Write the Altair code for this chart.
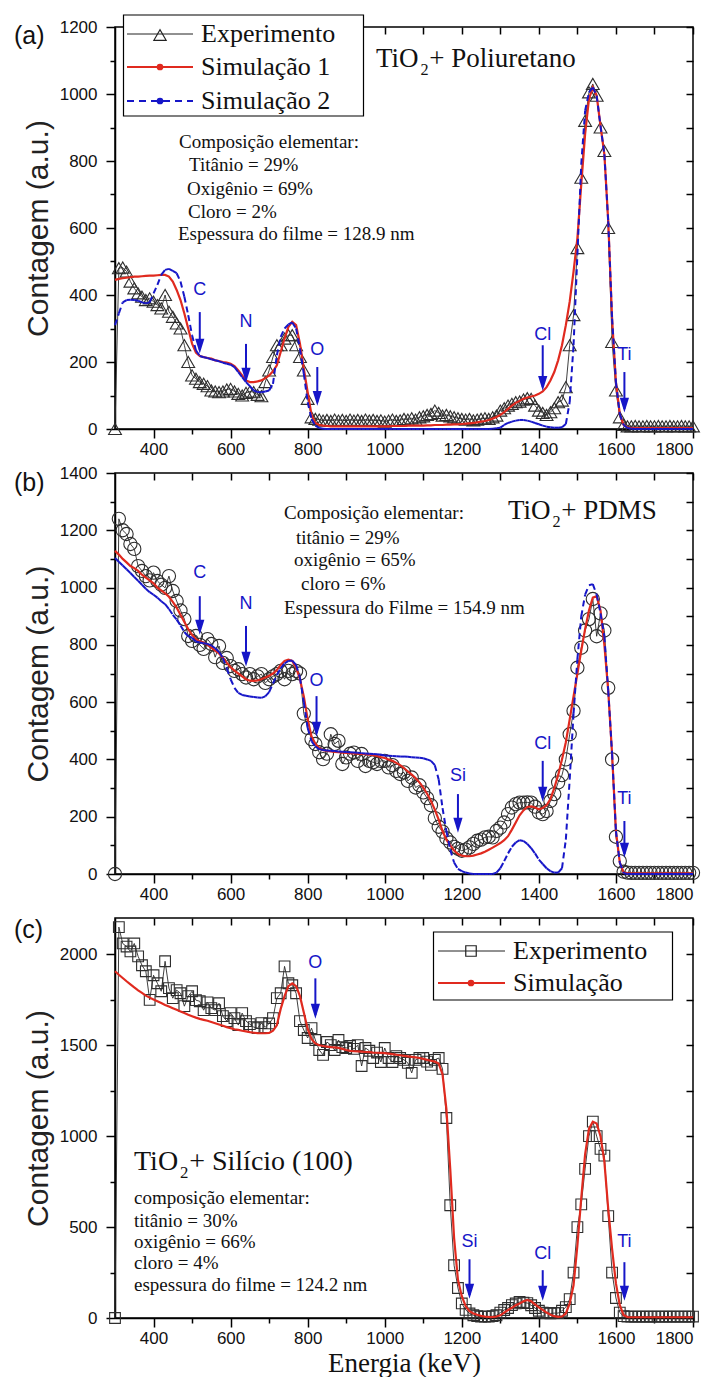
import altair as alt
import pandas as pd

# ---------------- data (energy channel grid, keV) ----------------
energia = list(range(300, 1801, 10))

# Panel (a): TiO2 + Poliuretano
a_exp = [0, 480, 482, 470, 440, 420, 405, 395, 385, 390,
         380, 370, 360, 400, 350, 335, 315, 300, 250, 200,
         160, 150, 140, 135, 128, 115, 112, 110, 112, 118,
         120, 112, 105, 100, 108, 112, 110, 102, 98, 140,
         175, 215, 250, 250, 270, 280, 280, 250, 215, 175,
         90, 35, 30, 28, 25, 27, 24, 28, 25, 27,
         24, 28, 25, 27, 24, 28, 25, 27, 24, 26,
         22, 25, 28, 24, 26, 30, 28, 32, 28, 35,
         38, 42, 45, 55, 48, 40, 42, 38, 35, 32,
         30, 28, 30, 26, 28, 30, 32, 30, 35, 40,
         55, 62, 70, 75, 80, 82, 88, 92, 90, 70,
         55, 48, 42, 50, 62, 80, 85, 125, 250, 340,
         540, 750, 920, 1005, 1030, 995, 900, 830, 600, 260,
         115, 35, 12, 8, 8, 9, 8, 8, 9, 8,
         8, 9, 8, 8, 9, 8, 8, 9, 8, 8,
         8]
a_sim1 = [445, 448, 450, 452, 453, 455, 455, 456, 457, 458,
          458, 459, 460, 460, 455, 440, 415, 385, 345, 300,
          255, 228, 218, 215, 212, 210, 205, 203, 200, 198,
          195, 188, 175, 160, 145, 140, 140, 142, 145, 152,
          160, 172, 190, 230, 270, 305, 320, 310, 255, 180,
          110, 42, 18, 12, 10, 9, 8, 8, 8, 8,
          8, 8, 8, 8, 8, 8, 8, 8, 8, 8,
          8, 8, 9, 9, 9, 9, 10, 10, 10, 10,
          10, 11, 11, 12, 12, 12, 13, 13, 14, 14,
          15, 16, 17, 18, 20, 22, 24, 27, 31, 36,
          42, 50, 60, 70, 78, 84, 90, 94, 97, 100,
          105, 112, 125, 145, 170, 205, 250, 310, 380, 470,
          570, 730, 880, 985, 1020, 995, 905, 820, 620, 330,
          140, 45, 12, 5, 3, 3, 3, 3, 3, 3,
          3, 3, 3, 3, 3, 3, 3, 3, 3, 3,
          3]
a_sim2 = [310, 345, 378, 385, 386, 385, 383, 378, 375, 378,
          405, 430, 460, 475, 478, 472, 465, 440, 395, 340,
          280, 235, 218, 214, 212, 208, 205, 202, 198, 195,
          192, 185, 170, 155, 140, 128, 115, 110, 110, 112,
          115, 135, 220, 275, 300, 312, 318, 300, 240, 165,
          80, 30, 10, 3, 1, 0, 0, 0, 0, 0,
          0, 0, 0, 0, 0, 0, 0, 0, 0, 0,
          0, 0, 0, 0, 0, 0, 0, 0, 0, 0,
          0, 0, 0, 0, 0, 0, 0, 0, 0, 0,
          0, 0, 0, 0, 0, 0, 0, 0, 1, 2,
          4, 12, 18, 22, 25, 27, 27, 25, 22, 18,
          14, 10, 7, 5, 4, 4, 5, 15, 80, 250,
          520, 790, 950, 1005, 1020, 995, 905, 820, 620, 330,
          140, 45, 12, 3, 1, 0, 0, 0, 0, 0,
          0, 0, 0, 0, 0, 0, 0, 0, 0, 0,
          0]

# Panel (b): TiO2 + PDMS
b_exp = [0, 1240, 1200, 1187, 1152, 1135, 1075, 1058, 1040, 1025,
         1052, 1023, 1010, 999, 1040, 988, 953, 920, 890, 831,
         814, 831, 800, 786, 820, 803, 757, 796, 737, 754,
         726, 709, 715, 698, 686, 698, 680, 690, 698, 667,
         680, 690, 698, 709, 680, 709, 698, 709, 700, 560,
         510, 471, 454, 425, 401, 420, 488, 454, 465, 384,
         407, 420, 424, 395, 419, 377, 395, 390, 384, 395,
         395, 372, 380, 360, 349, 355, 325, 337, 302, 310,
         285, 265, 240, 195, 165, 148, 125, 110, 95, 88,
         81, 85, 93, 105, 116, 120, 128, 130, 128, 150,
         162, 180, 209, 232, 244, 249, 249, 250, 249, 235,
         215, 209, 220, 255, 279, 320, 345, 400, 488, 570,
         720, 790, 850, 890, 960, 830, 910, 850, 650, 400,
         130, 45, 8, 5, 4, 4, 4, 4, 4, 4,
         4, 4, 4, 4, 4, 4, 4, 4, 4, 4,
         4]
b_sim1 = [1128, 1115, 1100, 1088, 1075, 1068, 1058, 1045, 1035, 1025,
          1015, 1000, 990, 980, 968, 950, 930, 905, 880, 855,
          835, 820, 812, 808, 800, 790, 780, 770, 755, 738,
          722, 710, 700, 690, 680, 675, 674, 676, 680, 686,
          692, 700, 712, 730, 744, 748, 744, 720, 680, 620,
          540, 480, 455, 440, 432, 430, 428, 426, 425, 424,
          423, 422, 421, 420, 419, 418, 417, 415, 412, 408,
          405, 400, 395, 388, 380, 370, 358, 347, 335, 320,
          302, 280, 255, 225, 190, 150, 120, 100, 82, 70,
          64, 62, 62, 64, 68, 72, 78, 85, 92, 100,
          108, 118, 132, 155, 180, 205, 222, 234, 236, 232,
          226, 230, 240, 262, 300, 345, 400, 460, 540, 620,
          700, 780, 855, 920, 965, 970, 920, 800, 640, 420,
          150, 40, 5, 2, 2, 2, 2, 2, 2, 2,
          2, 2, 2, 2, 2, 2, 2, 2, 2, 2,
          2]
b_sim2 = [1103, 1090, 1077, 1064, 1051, 1037, 1024, 1010, 996, 984,
          975, 965, 952, 942, 925, 905, 888, 868, 845, 830,
          825, 812, 808, 806, 803, 798, 788, 775, 755, 718,
          680, 650, 632, 625, 622, 620, 618, 616, 615, 620,
          635, 665, 695, 718, 735, 744, 745, 730, 685, 600,
          510, 464, 445, 436, 433, 431, 430, 429, 428, 427,
          426, 425, 424, 423, 422, 421, 420, 419, 418, 416,
          414, 413, 412, 411, 410, 410, 409, 408, 407, 406,
          404, 400, 395, 380, 330, 230, 150, 85, 40, 18,
          10, 5, 2, 0, 0, 0, 0, 0, 0, 5,
          20, 45, 72, 95, 110, 118, 115, 105, 90, 72,
          50, 35, 20, 10, 5, 5, 20, 120, 330, 560,
          750, 900, 975, 1008, 1012, 975, 910, 830, 640, 420,
          150, 40, 3, 0, 0, 0, 0, 0, 0, 0,
          0, 0, 0, 0, 0, 0, 0, 0, 0, 0,
          0]

# Panel (c): TiO2 + Silicio (100)
c_exp = [0, 2150, 2060, 2043, 2016, 2060, 1989, 1940, 1907, 1750,
         1885, 1841, 1797, 1962, 1814, 1759, 1803, 1786, 1715, 1770,
         1797, 1748, 1742, 1693, 1736, 1704, 1693, 1731, 1660, 1633,
         1677, 1649, 1611, 1677, 1633, 1616, 1600, 1594, 1622, 1600,
         1620, 1649, 1759, 1786, 1934, 1841, 1830, 1786, 1633, 1584,
         1540, 1594, 1529, 1474, 1447, 1518, 1501, 1474, 1529, 1490,
         1485, 1496, 1480, 1501, 1386, 1485, 1470, 1430, 1460, 1408,
         1485, 1430, 1408, 1440, 1430, 1420, 1403, 1348, 1420, 1430,
         1430, 1410, 1392, 1420, 1430, 1370, 1100, 620, 290, 165,
         80, 45, 25, 15, 10, 8, 8, 8, 10, 15,
         30, 44, 55, 71, 80, 88, 85, 82, 70, 55,
         40, 30, 27, 25, 27, 27, 40, 60, 104, 250,
         500, 625, 820, 1000, 1080, 1000, 930, 893, 560, 250,
         110, 30, 10, 8, 8, 8, 8, 8, 8, 8,
         8, 8, 8, 8, 8, 8, 8, 8, 8, 8,
         8]
c_sim = [1907, 1888, 1870, 1852, 1835, 1818, 1802, 1788, 1773, 1762,
         1752, 1742, 1732, 1722, 1713, 1704, 1695, 1686, 1677, 1668,
         1660, 1652, 1645, 1640, 1635, 1628, 1621, 1614, 1607, 1600,
         1594, 1588, 1585, 1580, 1576, 1572, 1569, 1567, 1566, 1566,
         1568, 1580, 1610, 1700, 1770, 1825, 1841, 1825, 1770, 1680,
         1590, 1535, 1510, 1500, 1496, 1493, 1490, 1488, 1486, 1480,
         1474, 1469, 1467, 1466, 1465, 1463, 1462, 1460, 1459, 1458,
         1457, 1454, 1451, 1448, 1445, 1442, 1439, 1436, 1433, 1430,
         1425, 1420, 1415, 1410, 1400, 1340, 1150, 820, 440, 210,
         120, 65, 38, 25, 18, 12, 8, 6, 5, 8,
         15, 30, 44, 56, 70, 80, 92, 99, 92, 75,
         58, 45, 30, 18, 10, 6, 8, 25, 80, 180,
         400, 660, 900, 1040, 1080, 1070, 1000, 860, 600, 380,
         190, 70, 16, 5, 4, 4, 4, 4, 4, 4,
         4, 4, 4, 4, 4, 4, 4, 4, 4, 4,
         4]

for s in (a_exp, a_sim1, a_sim2, b_exp, b_sim1, b_sim2, c_exp, c_sim):
    assert len(s) == len(energia), len(s)

# element edge markers: label, energy, arrow top, arrow tip, label height
a_elem = ["C", "N", "O", "Cl", "Ti"]
a_elem_e = [520, 640, 825, 1410, 1622]
a_elem_top = [349, 254, 185, 250, 170]
a_elem_tip = [236, 149, 80, 125, 60]
a_elem_lab = [415, 319, 236, 280, 221]

b_elem = ["C", "N", "O", "Si", "Cl", "Ti"]
b_elem_e = [520, 640, 823, 1190, 1410, 1622]
b_elem_top = [970, 866, 621, 279, 395, 185]
b_elem_tip = [848, 737, 492, 157, 265, 70]
b_elem_lab = [1051, 943, 674, 342, 454, 262]

c_elem = ["O", "Si", "Cl", "Ti"]
c_elem_e = [820, 1220, 1410, 1622]
c_elem_top = [1868, 323, 263, 307]
c_elem_tip = [1666, 126, 115, 115]
c_elem_lab = [1951, 416, 351, 416]

# ---------------- styling ----------------
SANS = "Liberation Sans"
SERIF = "Liberation Serif"
BLUE = "#1616c8"
RED = "#e02a1f"
DARK = "#2a2a2a"
W = 578
H = 401

one = pd.DataFrame({"k": [0]})
XS = alt.Scale(domain=[300, 1800], nice=False, zero=False)


def series_df(vals):
    return pd.DataFrame({"E": energia, "C": vals})


def segs_df(vals):
    return pd.DataFrame({"E": energia[:-1], "C": vals[:-1],
                         "E2": energia[1:], "C2": vals[1:]})


def txt(text, x, y, size, font, color="#111111", align="left", baseline="middle"):
    return alt.Chart(one).mark_text(
        text=text, font=font, fontSize=size, color=color, align=align, baseline=baseline
    ).encode(x=alt.value(x), y=alt.value(y))


def tio2(x, y, rest, size):
    w = 1.611 * size
    return [txt("TiO", x, y, size, SERIF, baseline="alphabetic"),
            txt("2", x + w + 1, y + size * 0.28, size * 0.6, SERIF, baseline="alphabetic"),
            txt(rest, x + w + size * 0.36, y, size, SERIF, baseline="alphabetic")]


def hline(x1, x2, y, color, width, dash=None):
    kw = dict(color=color, strokeWidth=width)
    if dash:
        kw["strokeDash"] = dash
    return alt.Chart(one).mark_rule(**kw).encode(
        x=alt.value(x1), x2=alt.value(x2), y=alt.value(y))


def sym(x, y, shape, size, color, filled):
    kw = dict(shape=shape, size=size, filled=filled, opacity=1)
    if filled:
        kw["fill"] = color
        kw["stroke"] = color
    else:
        kw["stroke"] = color
        kw["strokeWidth"] = 1.2
    return alt.Chart(one).mark_point(**kw).encode(x=alt.value(x), y=alt.value(y))


def box(x1, y1, x2, y2):
    return alt.Chart(one).mark_rect(fill="white", stroke="black", strokeWidth=1.2).encode(
        x=alt.value(x1), x2=alt.value(x2), y=alt.value(y1), y2=alt.value(y2))


ARROW = "M-0.62,-1L0.62,-1L0,1Z"


def arrows(names, es, tops, tips, labs, ys):
    df = pd.DataFrame({"el": names, "E": es, "top": tops, "tip": tips, "lab": labs})
    base = alt.Chart(df)
    shaft = base.mark_rule(color=BLUE, strokeWidth=2).encode(
        x=alt.X("E:Q", scale=XS, axis=None),
        y=alt.Y("top:Q", scale=ys, axis=None),
        y2="tip:Q")
    head = base.mark_point(shape=ARROW, filled=True, fill=BLUE, stroke=BLUE, size=110,
                           yOffset=-5, opacity=1).encode(
        x=alt.X("E:Q", scale=XS, axis=None),
        y=alt.Y("tip:Q", scale=ys, axis=None))
    lab = base.mark_text(font=SANS, fontSize=18, color=BLUE, baseline="middle").encode(
        x=alt.X("E:Q", scale=XS, axis=None),
        y=alt.Y("lab:Q", scale=ys, axis=None),
        text="el:N")
    return [shaft, head, lab]


def panel(exp, sims, shape, psize, ymax, ystep_minor, ystep_major, xtitle, extras,
          elem, height=H):
    ys = alt.Scale(domain=[0, ymax], nice=False, zero=True)
    xvals = list(range(400, 1801, 100))
    yvals = list(range(0, ymax + 1, ystep_minor))
    xaxis = alt.Axis(
        values=xvals, format="d", grid=False,
        labelExpr=f"datum.value % 200 === 0 ? datum.label : ''",
        tickSize={"condition": {"test": "datum.value % 200 === 0", "value": 9}, "value": 5},
        labelFont=SANS, labelFontSize=17, labelColor="#111", labelPadding=3,
        tickColor="black", tickWidth=1.5, domainColor="black", domainWidth=1.5,
        title=xtitle, titleFont=SERIF, titleFontSize=27, titleFontWeight="normal",
        titleColor="#111", titlePadding=4)
    yaxis = alt.Axis(
        values=yvals, format="d", grid=False,
        labelExpr=f"datum.value % {ystep_major} === 0 ? datum.label : ''",
        tickSize={"condition": {"test": f"datum.value % {ystep_major} === 0", "value": 9},
                  "value": 5},
        labelFont=SANS, labelFontSize=17, labelColor="#111", labelPadding=9,
        tickColor="black", tickWidth=1.5, domainColor="black", domainWidth=1.5,
        title="Contagem (a.u.)", titleFont=SANS, titleFontSize=30,
        titleFontWeight="normal", titleColor="#222", titlePadding=6)
    top_axis = alt.Axis(orient="top", values=xvals, labels=False, domain=False, grid=False,
                        tickSize=7, offset=-7, tickColor="black", tickWidth=1.5, title=None)
    right_axis = alt.Axis(orient="right", values=yvals, labels=False, domain=False,
                          grid=False, tickSize=7, offset=-7, tickColor="black",
                          tickWidth=1.5, title=None)

    dexp = series_df(exp)
    layers = []
    layers.append(alt.Chart(dexp).mark_line(color=DARK, strokeWidth=0.9).encode(
        x=alt.X("E:Q", scale=XS, axis=xaxis),
        y=alt.Y("C:Q", scale=ys, axis=yaxis)))
    layers.append(alt.Chart(dexp).mark_point(opacity=0).encode(
        x=alt.X("E:Q", scale=XS, axis=top_axis),
        y=alt.Y("C:Q", scale=ys, axis=right_axis)))
    layers.append(alt.Chart(dexp).mark_point(
        shape=shape, size=psize, filled=False, stroke="#2e2e2e", strokeWidth=1.1,
        opacity=1).encode(
        x=alt.X("E:Q", scale=XS, axis=None),
        y=alt.Y("C:Q", scale=ys, axis=None)))
    for vals, kind in sims:
        if kind == "red":
            layers.append(alt.Chart(series_df(vals)).mark_line(
                color=RED, strokeWidth=2.2).encode(
                x=alt.X("E:Q", scale=XS, axis=None),
                y=alt.Y("C:Q", scale=ys, axis=None)))
        else:
            layers.append(alt.Chart(segs_df(vals)).mark_rule(
                color=BLUE, strokeWidth=2.0, strokeDash=[6, 4]).encode(
                x=alt.X("E:Q", scale=XS, axis=None),
                y=alt.Y("C:Q", scale=ys, axis=None),
                x2="E2:Q", y2="C2:Q"))
    layers += arrows(*elem, ys)
    layers += extras
    return alt.layer(*layers).resolve_axis(x="independent", y="independent").properties(
        width=W, height=height)


# ---------------- panel (a) ----------------
extras_a = [txt("(a)", -101, 9, 25, SANS, color="#111")]
extras_a += tio2(261, 40, "+ Poliuretano", 27)
for t, x, y in [("Composição elementar:", 64, 115), ("Titânio = 29%", 74, 138),
                ("Oxigênio = 69%", 72, 162), ("Cloro = 2%", 73, 185),
                ("Espessura do filme = 128.9 nm", 63, 207)]:
    extras_a.append(txt(t, x, y, 19, SERIF))
extras_a += [box(8.5, -12, 248.5, 89),
             hline(12, 78, 7, "#222", 1.0), sym(45, 8, "triangle-up", 150, "#222", False),
             txt("Experimento", 86, 7, 26, SERIF),
             hline(12, 78, 40, RED, 2.2), sym(45, 40, "circle", 22, RED, True),
             txt("Simulação 1", 86, 40, 26, SERIF),
             hline(12, 78, 74, BLUE, 2.0, [7, 5]), sym(45, 74, "circle", 22, BLUE, True),
             txt("Simulação 2", 86, 74, 26, SERIF)]

pa = panel(a_exp, [(a_sim1, "red"), (a_sim2, "blue")], "triangle-up", 165, 1200, 100, 200,
           None, extras_a, (a_elem, a_elem_e, a_elem_top, a_elem_tip, a_elem_lab), height=402)

# ---------------- panel (b) ----------------
extras_b = [txt("(b)", -101, 10, 25, SANS, color="#111")]
extras_b += tio2(393, 46, "+ PDMS", 27)
for t, x, y in [("Composição elementar:", 169, 40), ("titânio = 29%", 181, 65),
                ("oxigênio = 65%", 179, 87), ("cloro = 6%", 186, 111),
                ("Espessura do Filme = 154.9 nm", 169, 135)]:
    extras_b.append(txt(t, x, y, 19, SERIF))

pb = panel(b_exp, [(b_sim1, "red"), (b_sim2, "blue")], "circle", 175, 1400, 100, 200,
           None, extras_b, (b_elem, b_elem_e, b_elem_top, b_elem_tip, b_elem_lab))

# ---------------- panel (c) ----------------
extras_c = [txt("(c)", -101, 12, 25, SANS, color="#111")]
extras_c += tio2(19, 252, "+ Silício (100)", 28)
for t, x, y in [("composição elementar:", 19, 280), ("titânio = 30%", 19, 303),
                ("oxigênio = 66%", 19, 324), ("cloro = 4%", 19, 345),
                ("espessura do filme = 124.2 nm", 19, 367)]:
    extras_c.append(txt(t, x, y, 19, SERIF))
extras_c += [box(318.5, 14, 557.5, 82),
             hline(323, 390, 33, "#222", 1.0), sym(356, 33, "square", 110, "#222", False),
             txt("Experimento", 398, 33, 26, SERIF),
             hline(323, 390, 65, RED, 2.2), sym(356, 65, "circle", 22, RED, True),
             txt("Simulação", 398, 65, 26, SERIF)]

pc = panel(c_exp, [(c_sim, "red")], "square", 115, 2200, 250, 500,
           "Energia (keV)", extras_c, (c_elem, c_elem_e, c_elem_top, c_elem_tip, c_elem_lab),
           height=400)

chart = alt.vconcat(pa, pb, pc, spacing=44, bounds="flush").properties(
    padding={"left": 5, "top": 5, "right": 0, "bottom": 0}
).configure_view(stroke="black", strokeWidth=1.5)

chart.save("out.html", embed_options={"renderer": "svg", "actions": False})
